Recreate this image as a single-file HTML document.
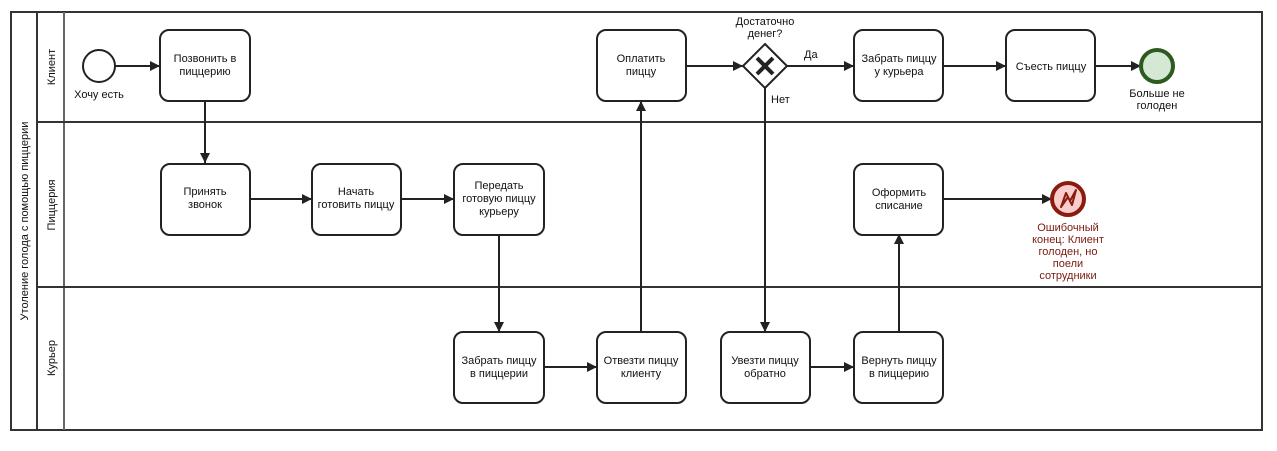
<!DOCTYPE html>
<html><head><meta charset="utf-8"><style>
html,body{margin:0;padding:0;background:#fff}
svg text{font-family:"Liberation Sans",Arial,sans-serif;font-size:11px;fill:#111}
</style></head><body>
<svg width="1277" height="446" viewBox="0 0 1277 446" xmlns="http://www.w3.org/2000/svg">
<defs>
<marker id="a" viewBox="0 0 10 10" refX="10" refY="5" markerWidth="10" markerHeight="10" markerUnits="userSpaceOnUse" orient="auto"><path d="M0,0L10,5L0,10z" fill="#222"/></marker>
</defs>
<g fill="none" stroke="#333" stroke-width="2">
<rect x="11" y="12" width="1251" height="418"/>
<line x1="37" y1="12" x2="37" y2="430"/>
<line x1="64" y1="12" x2="64" y2="430" stroke="#666"/>
<line x1="37" y1="122" x2="1262" y2="122"/>
<line x1="37" y1="287" x2="1262" y2="287"/>
</g>
<text transform="translate(28,221) rotate(-90)" text-anchor="middle">Утоление голода с помощью пиццерии</text>
<text transform="translate(55,67) rotate(-90)" text-anchor="middle">Клиент</text>
<text transform="translate(55,205) rotate(-90)" text-anchor="middle">Пиццерия</text>
<text transform="translate(55,358) rotate(-90)" text-anchor="middle">Курьер</text>

<g fill="none" stroke="#222" stroke-width="2" marker-end="url(#a)">
<line x1="115" y1="66" x2="160" y2="66"/>
<line x1="205" y1="101" x2="205" y2="163"/>
<line x1="250" y1="199" x2="312" y2="199"/>
<line x1="401" y1="199" x2="454" y2="199"/>
<line x1="499" y1="234" x2="499" y2="332"/>
<line x1="544" y1="367" x2="597" y2="367"/>
<line x1="641" y1="332" x2="641" y2="101"/>
<line x1="686" y1="66" x2="743" y2="66"/>
<line x1="787" y1="66" x2="854" y2="66"/>
<line x1="765" y1="88" x2="765" y2="332"/>
<line x1="810" y1="367" x2="854" y2="367"/>
<line x1="899" y1="332" x2="899" y2="234"/>
<line x1="943" y1="199" x2="1052" y2="199"/>
<line x1="943" y1="66" x2="1006" y2="66"/>
<line x1="1095" y1="66" x2="1141" y2="66"/>
</g>

<g fill="#fff" stroke="#222" stroke-width="2">
<circle cx="99" cy="66" r="16"/>
<rect x="160" y="30" width="90" height="71" rx="9"/>
<rect x="161" y="164" width="89" height="71" rx="9"/>
<rect x="312" y="164" width="89" height="71" rx="9"/>
<rect x="454" y="164" width="90" height="71" rx="9"/>
<rect x="454" y="332" width="90" height="71" rx="9"/>
<rect x="597" y="332" width="89" height="71" rx="9"/>
<rect x="597" y="30" width="89" height="71" rx="9"/>
<rect x="721" y="332" width="89" height="71" rx="9"/>
<rect x="854" y="332" width="89" height="71" rx="9"/>
<rect x="854" y="164" width="89" height="71" rx="9"/>
<rect x="854" y="30" width="89" height="71" rx="9"/>
<rect x="1006" y="30" width="89" height="71" rx="9"/>
<path d="M765,44L787,66L765,88L743,66z"/>
</g>
<path d="M757,58L773,74M773,58L757,74" stroke="#222" stroke-width="4"/>
<circle cx="1157" cy="66" r="16" fill="#d5e8d4" stroke="#2d5a1e" stroke-width="4"/>
<circle cx="1068" cy="199" r="16" fill="#f8cecc" stroke="#8b1a10" stroke-width="4"/>
<path d="M1061,207L1066,193L1070,201L1076,190L1072,205L1068,197z" fill="none" stroke="#8b1a10" stroke-width="2" stroke-linejoin="round"/>

<g text-anchor="middle">
<text x="99" y="98" font-size="10">Хочу есть</text>
<text x="205" y="62">Позвонить в</text><text x="205" y="75">пиццерию</text>
<text x="205" y="195">Принять</text><text x="205" y="208">звонок</text>
<text x="356" y="195">Начать</text><text x="356" y="208">готовить пиццу</text>
<text x="499" y="189">Передать</text><text x="499" y="202">готовую пиццу</text><text x="499" y="215">курьеру</text>
<text x="499" y="364">Забрать пиццу</text><text x="499" y="377">в пиццерии</text>
<text x="641" y="364">Отвезти пиццу</text><text x="641" y="377">клиенту</text>
<text x="641" y="62">Оплатить</text><text x="641" y="75">пиццу</text>
<text x="765" y="364">Увезти пиццу</text><text x="765" y="377">обратно</text>
<text x="899" y="364">Вернуть пиццу</text><text x="899" y="377">в пиццерию</text>
<text x="899" y="196">Оформить</text><text x="899" y="209">списание</text>
<text x="899" y="62">Забрать пиццу</text><text x="899" y="75">у курьера</text>
<text x="1051" y="70">Съесть пиццу</text>
<text x="765" y="25" font-size="10">Достаточно</text><text x="765" y="37" font-size="10">денег?</text>
<text x="1157" y="97" font-size="10">Больше не</text><text x="1157" y="109" font-size="10">голоден</text>
<g font-size="10" style="fill:#7a1a10"><text x="1068" y="231" style="fill:#7a1a10">Ошибочный</text><text x="1068" y="243" style="fill:#7a1a10">конец: Клиент</text><text x="1068" y="255" style="fill:#7a1a10">голоден, но</text><text x="1068" y="267" style="fill:#7a1a10">поели</text><text x="1068" y="279" style="fill:#7a1a10">сотрудники</text></g>
</g>
<text x="804" y="58" font-size="10">Да</text>
<text x="771" y="103" font-size="10">Нет</text>
</svg>
</body></html>
